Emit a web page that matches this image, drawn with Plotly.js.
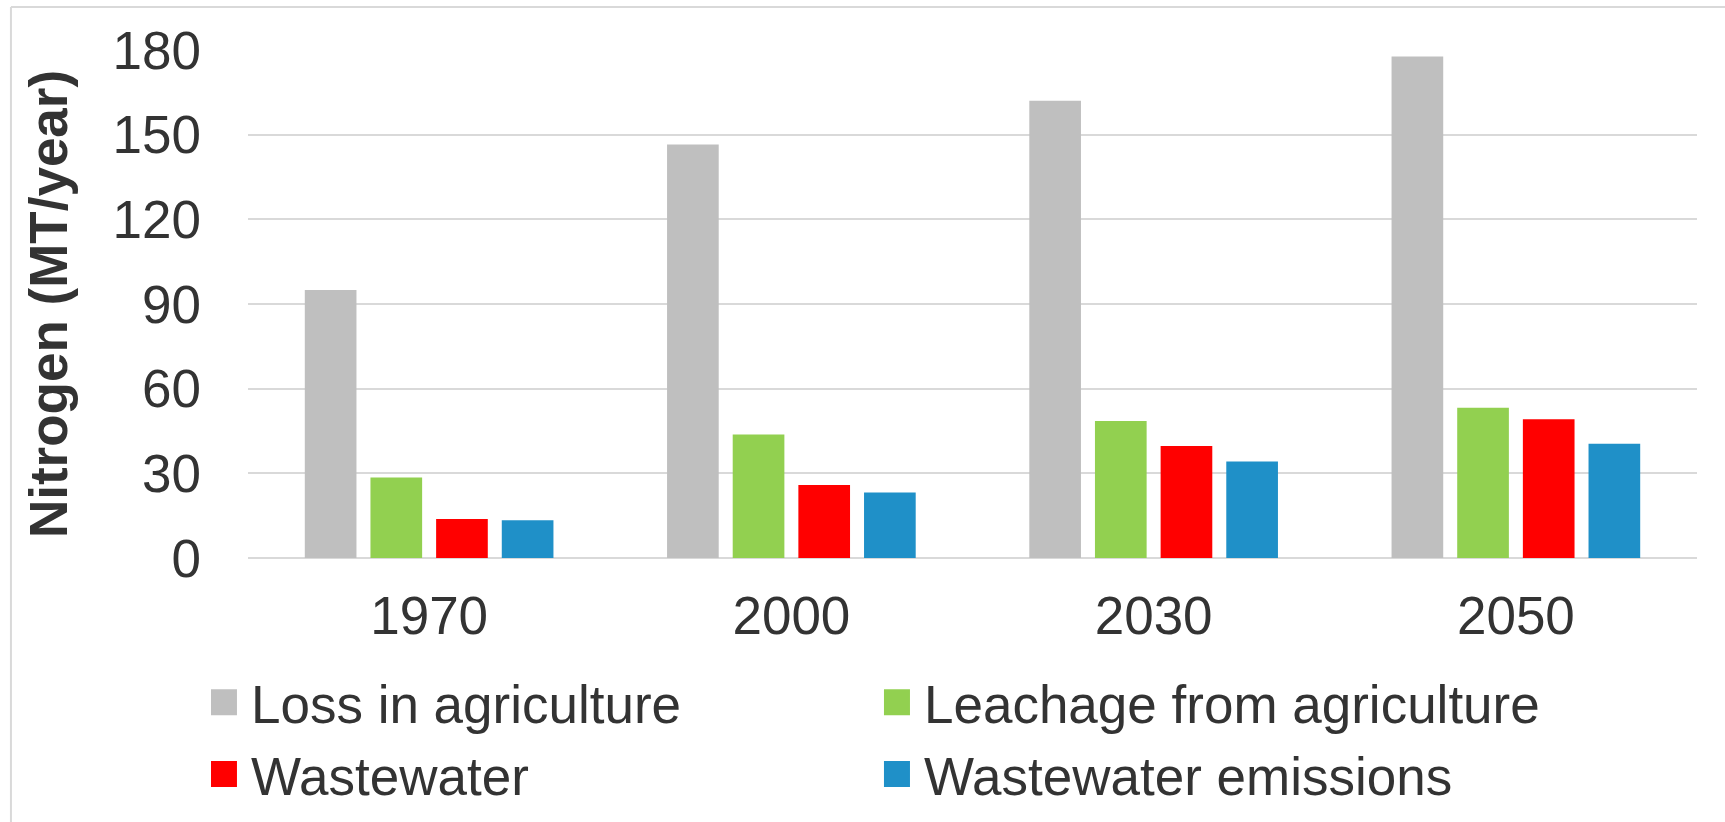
<!DOCTYPE html>
<html>
<head>
<meta charset="utf-8">
<script src="https://cdn.plot.ly/plotly-3.0.1.min.js"></script>
<style>
  html, body { margin: 0; padding: 0; background: #ffffff; }
  #chart { width: 1725px; height: 822px; }
</style>
</head>
<body>
<div id="chart"></div>
<script>
const years = ["1970", "2000", "2030", "2050"];
const seriesNames = ["Loss in agriculture", "Leachage from agriculture", "Wastewater", "Wastewater emissions"];
const lossInAgriculture = [95.0, 146.5, 162.0, 177.7];
const leachageFromAgriculture = [28.5, 43.8, 48.5, 53.2];
const wastewater = [13.8, 25.9, 39.7, 49.2];
const wastewaterEmissions = [13.4, 23.2, 34.2, 40.5];
const seriesColors = ["#bfbfbf", "#92d050", "#ff0000", "#1f90c8"];
const yTickValues = [0, 30, 60, 90, 120, 150, 180];

const seriesValues = [lossInAgriculture, leachageFromAgriculture, wastewater, wastewaterEmissions];
const traces = seriesValues.map((vals, i) => ({
  type: "bar",
  name: seriesNames[i],
  x: years,
  y: vals,
  marker: { color: seriesColors[i], line: { width: 0 } },
  hoverinfo: "x+y+name"
}));

const font = "Liberation Sans, Arial, sans-serif";
const textColor = "#333333";
const gridColor = "#d9d9d9";

const layout = {
  width: 1725,
  height: 822,
  paper_bgcolor: "#ffffff",
  plot_bgcolor: "#ffffff",
  margin: { l: 248, r: 28, t: 50, b: 264.4, pad: 0, autoexpand: false },
  barmode: "group",
  bargap: 0.275,
  bargroupgap: 0.213,
  showlegend: true,
  font: { family: font, color: textColor, size: 53 },
  xaxis: {
    type: "category",
    showgrid: false,
    zeroline: false,
    showline: false,
    ticks: "",
    ticklabelstandoff: 22,
    tickfont: { family: font, size: 53, color: textColor },
    automargin: false
  },
  yaxis: {
    range: [0, 180],
    tickvals: yTickValues,
    ticktext: yTickValues.map(String),
    showgrid: true,
    gridcolor: gridColor,
    gridwidth: 1.5,
    zeroline: true,
    zerolinecolor: gridColor,
    zerolinewidth: 1.5,
    showline: false,
    ticks: "",
    ticklabelstandoff: 46,
    tickfont: { family: font, size: 53, color: textColor },
    title: {
      text: "<b>Nitrogen (MT/year)</b>",
      font: { family: font, size: 53, color: textColor },
      standoff: 28
    },
    automargin: false
  },
  legend: {
    orientation: "h",
    xref: "container",
    yref: "container",
    x: 0.1223,
    xanchor: "left",
    y: 0.2009,
    yanchor: "top",
    entrywidth: 628,
    entrywidthmode: "pixels",
    traceorder: "normal",
    font: { family: font, size: 53, color: textColor },
    bgcolor: "rgba(0,0,0,0)",
    itemclick: false,
    itemdoubleclick: false
  },
  shapes: [
    { type: "line", xref: "paper", yref: "paper", x0: -0.1636, x1: 1.1, y0: 1.0847, y1: 1.0847,
      line: { color: gridColor, width: 2 } },
    { type: "line", xref: "paper", yref: "paper", x0: -0.1636, x1: -0.1636, y0: 1.0847, y1: -0.7,
      line: { color: gridColor, width: 2 } }
  ]
};

Plotly.newPlot("chart", traces, layout, { displayModeBar: false }).then(gd => {
  gd.querySelectorAll("g.legendpoints path").forEach(p => {
    p.setAttribute("d", "M6,13H-20V-13H6Z");
  });
  // slightly larger row spacing, as in the original legend
  gd.querySelectorAll("g.legend g.traces").forEach(t => {
    const tr = t.getAttribute("transform") || "";
    const m = tr.match(/translate\(\s*([-\d.e]+)[ ,]+([-\d.e]+)\s*\)/);
    if (m) {
      const tx = parseFloat(m[1]);
      const ty = parseFloat(m[2]);
      if (ty > 20) t.setAttribute("transform", "translate(" + tx + "," + (ty + 4.4) + ")");
    }
  });
});
</script>
</body>
</html>
